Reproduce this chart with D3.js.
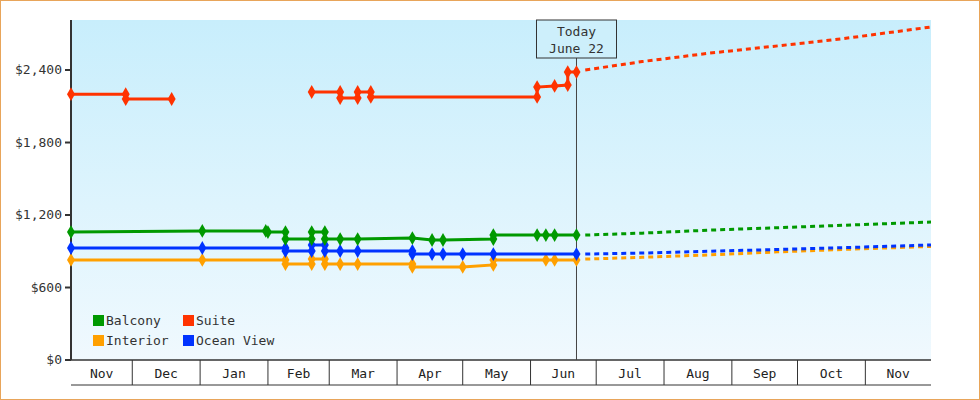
<!DOCTYPE html>
<html><head><meta charset="utf-8">
<script src="https://cdn.jsdelivr.net/npm/d3@7"></script>
<style>body{margin:0;background:#fff}text{font-family:"DejaVu Sans Mono",monospace;}</style>
</head><body>
<script>
// price history, steps have two points on the same date
const suite1 = [["2017-11-03",2200],["2017-11-28",2200],["2017-11-28",2160],["2017-12-19",2160]];
const suite2 = [["2018-02-21",2218],["2018-03-06",2218],["2018-03-06",2168],["2018-03-14",2168],["2018-03-14",2218],["2018-03-20",2218],["2018-03-20",2177],["2018-06-04",2177],["2018-06-04",2259],["2018-06-12",2268],["2018-06-18",2276],["2018-06-18",2383],["2018-06-22",2383]];
const balcony = [["2017-11-03",1059],["2018-01-02",1068],["2018-01-31",1068],["2018-02-01",1059],["2018-02-09",1059],["2018-02-09",1001],["2018-02-21",1001],["2018-02-21",1059],["2018-02-27",1059],["2018-02-27",1001],["2018-03-06",1001],["2018-03-14",1001],["2018-04-08",1009],["2018-04-17",993],["2018-04-22",993],["2018-05-15",1001],["2018-05-15",1034],["2018-06-04",1034],["2018-06-08",1034],["2018-06-12",1034],["2018-06-22",1034]];
const ocean = [["2017-11-03",927],["2018-01-02",927],["2018-02-09",927],["2018-02-09",902],["2018-02-21",902],["2018-02-21",952],["2018-02-27",952],["2018-02-27",902],["2018-03-06",902],["2018-03-14",902],["2018-04-08",902],["2018-04-08",877],["2018-04-17",877],["2018-04-22",877],["2018-05-01",877],["2018-05-15",877],["2018-06-22",877]];
const interior = [["2017-11-03",828],["2018-01-02",828],["2018-02-09",828],["2018-02-09",794],["2018-02-21",794],["2018-02-21",836],["2018-02-27",836],["2018-02-27",794],["2018-03-06",794],["2018-03-14",794],["2018-04-08",794],["2018-04-08",770],["2018-05-01",770],["2018-05-15",787],["2018-05-15",828],["2018-06-08",828],["2018-06-12",828],["2018-06-22",828]];
// forecast
const fcDates = ["2018-06-26","2018-07-22","2018-08-22","2018-09-22","2018-10-22","2018-12-01"];
const fcSuite = [2400,2470,2540,2600,2660,2756];
const fcBalcony = [1034,1050,1075,1095,1115,1142];
const fcOcean = [877,885,900,915,930,952];
const fcInterior = [835,850,870,895,915,940];
const months = ["Nov","Dec","Jan","Feb","Mar","Apr","May","Jun","Jul","Aug","Sep","Oct","Nov"];
const yTicks = [0,600,1200,1800,2400];

const W=980,H=400,L=71,R=931,T=20,B=360;
const parse=d3.timeParse("%Y-%m-%d");
const x=d3.scaleTime().domain([parse("2017-11-03"),parse("2018-12-01")]).range([L,R]);
const y=d3.scaleLinear().domain([0,2814]).range([B,T]);

const svg=d3.select("body").append("svg").attr("width",W).attr("height",H);
const grad=svg.append("defs").append("linearGradient").attr("id","bg").attr("x1",0).attr("y1",0).attr("x2",0).attr("y2",1);
grad.append("stop").attr("offset","0").attr("stop-color","#c8eefc");
grad.append("stop").attr("offset","1").attr("stop-color","#f0f9fe");
svg.append("rect").attr("x",0.5).attr("y",0.5).attr("width",W-1).attr("height",H-1).attr("fill","#fff").attr("stroke","#e8a55a");
svg.append("rect").attr("x",L).attr("y",T).attr("width",R-L).attr("height",B-T).attr("fill","url(#bg)");

// y axis
svg.append("line").attr("x1",L).attr("x2",L).attr("y1",T).attr("y2",B).attr("stroke","#333").attr("stroke-width",2);
yTicks.forEach(v=>{
  svg.append("line").attr("x1",L-6).attr("x2",L).attr("y1",y(v)).attr("y2",y(v)).attr("stroke","#333").attr("stroke-width",2);
  svg.append("text").attr("x",L-9).attr("y",y(v)+4).attr("text-anchor","end").attr("font-size",13).attr("fill","#333").text("$"+d3.format(",")(v));
});

// x axis month bands
svg.append("line").attr("x1",L).attr("x2",R).attr("y1",B).attr("y2",B).attr("stroke","#333").attr("stroke-width",1.5);
svg.append("line").attr("x1",L).attr("x2",R).attr("y1",385).attr("y2",385).attr("stroke","#333");
const mStarts=d3.timeMonth.range(parse("2017-11-01"),parse("2018-12-01"));
mStarts.forEach((m,i)=>{
  const a=Math.max(x(m),L), b=x(d3.timeMonth.offset(m,1));
  if(i>0) svg.append("line").attr("x1",a).attr("x2",a).attr("y1",B).attr("y2",385).attr("stroke","#333");
  svg.append("text").attr("x",(a+b)/2).attr("y",378).attr("text-anchor","middle").attr("font-size",13).attr("fill","#222").text(months[i]);
});

// today marker
const today=parse("2018-06-22");
svg.append("line").attr("x1",x(today)).attr("x2",x(today)).attr("y1",58).attr("y2",B).attr("stroke","#444");
svg.append("rect").attr("x",x(today)-40).attr("y",20).attr("width",80).attr("height",38).attr("fill","#cdeffb").attr("stroke","#333");
svg.append("text").attr("x",x(today)).attr("y",36).attr("text-anchor","middle").attr("font-size",13).attr("fill","#333").text("Today");
svg.append("text").attr("x",x(today)).attr("y",53).attr("text-anchor","middle").attr("font-size",13).attr("fill","#333").text("June 22");

const line=d3.line().x(d=>x(parse(d[0]))).y(d=>y(d[1]));
const sym=d3.symbol().type(d3.symbolDiamond).size(55);
function series(data,color){
  svg.append("path").attr("d",line(data)).attr("fill","none").attr("stroke",color).attr("stroke-width",3);
  svg.selectAll(null).data(data).enter().append("path").attr("d",sym)
    .attr("transform",d=>`translate(${x(parse(d[0]))},${y(d[1])})`).attr("fill",color);
}
function forecast(vals,color){
  const data=fcDates.map((d,i)=>[d,vals[i]]);
  svg.append("path").attr("d",line(data)).attr("fill","none").attr("stroke",color).attr("stroke-width",3).attr("stroke-dasharray","5,4");
}
forecast(fcInterior,"#ffa000");forecast(fcOcean,"#0033ff");forecast(fcBalcony,"#009900");forecast(fcSuite,"#ff3300");
series(interior,"#ffa000");series(ocean,"#0033ff");series(balcony,"#009900");series(suite1,"#ff3300");series(suite2,"#ff3300");

// legend
const legend=[["Balcony","#009900",93,320],["Suite","#ff3300",183,320],["Interior","#ffa000",93,340],["Ocean View","#0033ff",183,340]];
legend.forEach(l=>{
  svg.append("rect").attr("x",l[2]).attr("y",l[3]-5).attr("width",11).attr("height",11).attr("fill",l[1]);
  svg.append("text").attr("x",l[2]+13).attr("y",l[3]+5).attr("font-size",13).attr("fill","#333").text(l[0]);
});
</script>
</body></html>
